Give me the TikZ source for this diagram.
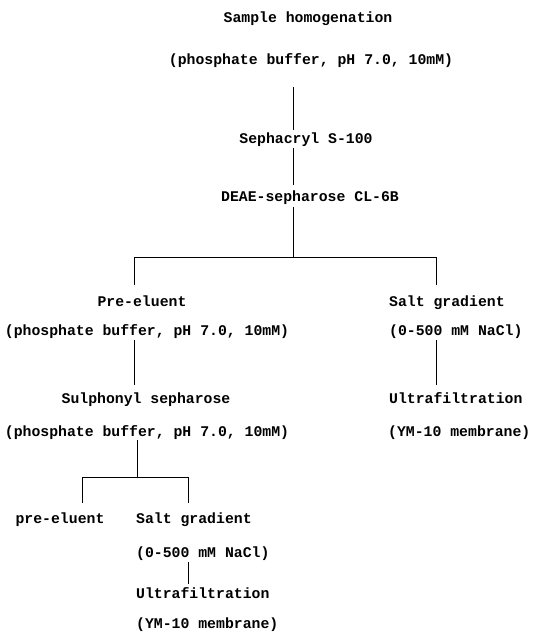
\documentclass[tikz,border=0pt]{standalone}
\usepackage{fontspec}
\setmonofont{Liberation Mono}
\usepackage{tikz}
\usetikzlibrary{calc}

\begin{document}
\begin{tikzpicture}[x=1pt,y=-1pt]
		\tikzset{txt/.style = {font=\ttfamily\bfseries\fontsize{14.8pt}{16pt}\selectfont, inner sep=0pt, text height=9pt, text depth=3pt}}
		\tikzset{link/.style = {line width=0.9pt}}
		\useasboundingbox (0,0) rectangle (538,642);

		% main column
		\node[txt] (A) at (308,20) {Sample homogenation};
		\node[txt] (A1) at (311,62) {(phosphate buffer, pH 7.0, 10mM)};
		\node[txt] (B) at (306,140) {Sephacryl S-100};
		\node[txt] (C) at (310,198) {DEAE-sepharose CL-6B};

		% left branch
		\node[txt] (D) at (142,303) {Pre-eluent};
		\node[txt] (D1) at (147,332) {(phosphate buffer, pH 7.0, 10mM)};
		\node[txt] (D2) at (146,400) {Sulphonyl sepharose};
		\node[txt] (D3) at (147,433) {(phosphate buffer, pH 7.0, 10mM)};

		% right branch
		\node[txt, anchor=west] (E) at (389,303) {Salt gradient};
		\node[txt, anchor=west] (E1) at (389,332) {(0-500 mM NaCl)};
		\node[txt, anchor=west] (E2) at (389,400) {Ultrafiltration};
		\node[txt, anchor=west] (E3) at (388,433) {(YM-10 membrane)};

		% second split
		\node[txt] (F) at (60,520) {pre-eluent};
		\node[txt, anchor=west] (G) at (136,520) {Salt gradient};
		\node[txt, anchor=west] (G1) at (136,554) {(0-500 mM NaCl)};
		\node[txt, anchor=west] (G2) at (136,595) {Ultrafiltration};
		\node[txt, anchor=west] (G3) at (136,625) {(YM-10 membrane)};

		\coordinate (J1) at (293,257);
		\coordinate (J1l) at (134,257);
		\coordinate (J1r) at (436,257);
		\coordinate (J2) at (137,477);
		\coordinate (J2l) at (82,477);
		\coordinate (J2r) at (188,477);

		\draw[link, shorten <=19pt, shorten >=4pt] (A1.south -| J1) to (B.north -| J1);
		\draw[link, shorten <=2pt, shorten >=7pt] (B.south -| J1) to (C.north -| J1);
		\draw[link, shorten <=3pt] (C.south -| J1) to (J1);
		\draw[link] (J1l) to (J1r);
		\draw[link, shorten >=12pt] (J1l) to (D.north -| J1l);
		\draw[link, shorten >=12pt] (J1r) to (E.north -| J1r);
		\draw[link, shorten <=2pt, shorten >=9pt] (D1.south -| J1l) to (D2.north -| J1l);
		\draw[link, shorten <=2pt, shorten >=9pt] (E1.south -| J1r) to (E2.north -| J1r);
		\draw[link, shorten <=1pt] (D3.south -| J2) to (J2);
		\draw[link] (J2l) to (J2r);
		\draw[link, shorten >=11pt] (J2l) to (F.north -| J2l);
		\draw[link, shorten >=11pt] (J2r) to (G.north -| J2r);
		\draw[link, shorten <=2pt, shorten >=5pt] (G1.south -| J2r) to (G2.north -| J2r);

	\end{tikzpicture}
\end{document}
